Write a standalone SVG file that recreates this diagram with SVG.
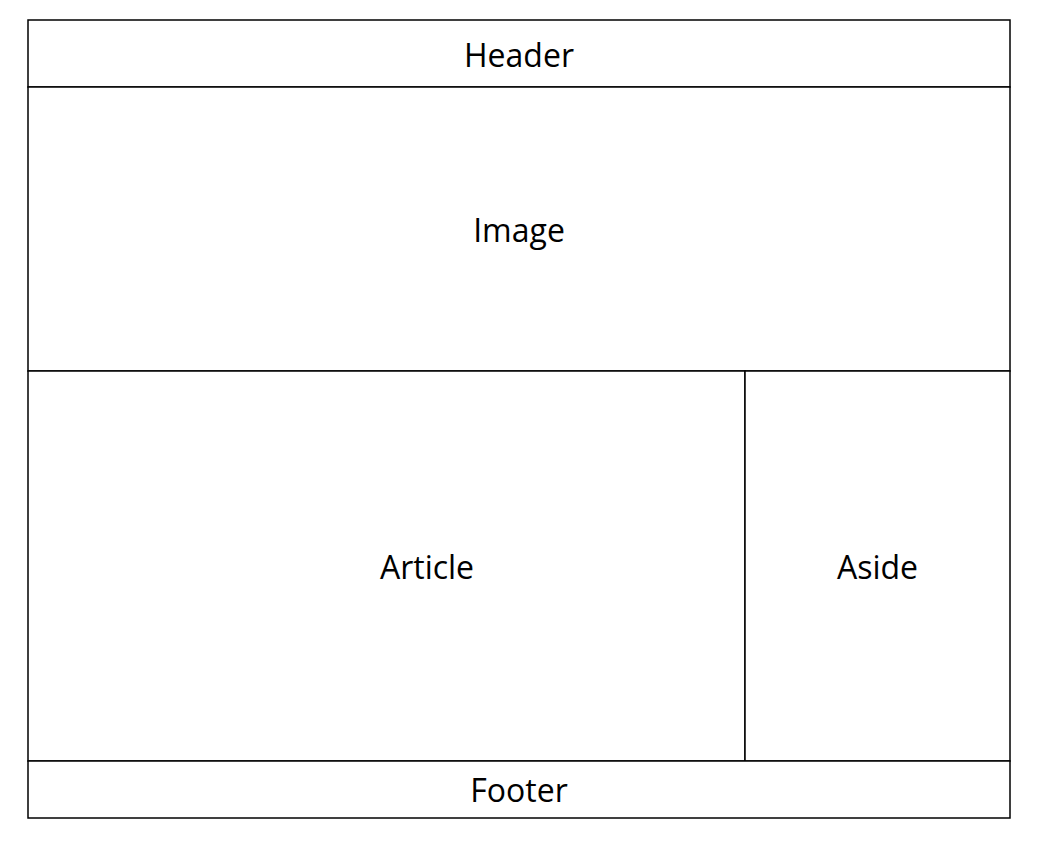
<svg xmlns="http://www.w3.org/2000/svg" width="1050" height="842" viewBox="0 0 1050 842">
<style>
.box{fill:#fff;stroke:#000;stroke-width:1.5}
.lbl{font-family:"Open Sans","Liberation Sans",sans-serif;font-size:32px;fill:#000;text-anchor:middle}
</style>
<rect width="1050" height="842" fill="#fff"/>
<g id="header"><rect class="box" x="28" y="20" width="982" height="67"/><text class="lbl" x="519" y="67">Header</text></g>
<g id="image"><rect class="box" x="28" y="87" width="982" height="284"/><text class="lbl" x="519" y="242">Image</text></g>
<g id="article"><rect class="box" x="28" y="371" width="717" height="390"/><text class="lbl" x="427" y="579">Article</text></g>
<g id="aside"><rect class="box" x="745" y="371" width="265" height="390"/><text class="lbl" x="877.5" y="579">Aside</text></g>
<g id="footer"><rect class="box" x="28" y="761" width="982" height="57"/><text class="lbl" x="519" y="802">Footer</text></g>
<g id="connectors"/>
</svg>
